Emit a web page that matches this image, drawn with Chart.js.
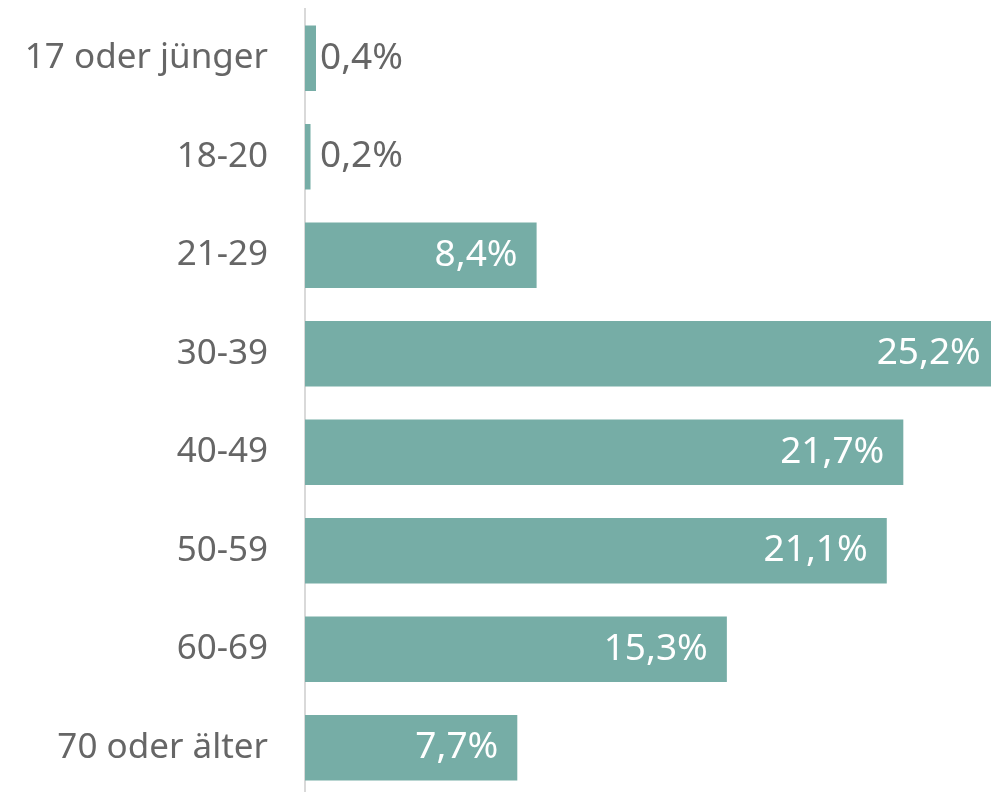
<!DOCTYPE html>
<html>
<head>
<meta charset="utf-8">
<script src="https://cdn.jsdelivr.net/npm/chart.js@4.4.1/dist/chart.umd.min.js"></script>
<style>
html,body{margin:0;padding:0;background:#fff;overflow:hidden;}
canvas{display:block;}
</style>
</head>
<body>
<canvas id="c" width="991" height="797"></canvas>
<script>
const categories = ["17 oder jünger","18-20","21-29","30-39","40-49","50-59","60-69","70 oder älter"];
const values = [0.4, 0.2, 8.4, 25.2, 21.7, 21.1, 15.3, 7.7];
const valueLabels = ["0,4%","0,2%","8,4%","25,2%","21,7%","21,1%","15,3%","7,7%"];

const FONT = "'Noto Sans', sans-serif";
const barColor = "#76ADA6";
const textGray = "#666666";

const labelPlugin = {
  id: 'valueLabels',
  afterDatasetsDraw(chart) {
    const ctx = chart.ctx;
    const meta = chart.getDatasetMeta(0);
    ctx.save();
    ctx.font = "37px " + FONT;
    ctx.textBaseline = 'middle';
    meta.data.forEach((bar, i) => {
      const realEnd = chart.scales.x.getPixelForValue(values[i]);
      const w = ctx.measureText(valueLabels[i]).width;
      if (realEnd - bar.base > w + 30) {
        ctx.fillStyle = '#ffffff';
        ctx.textAlign = 'right';
        ctx.fillText(valueLabels[i], realEnd - 19, bar.y);
      } else {
        ctx.fillStyle = textGray;
        ctx.textAlign = 'left';
        ctx.fillText(valueLabels[i], bar.base + 15, bar.y);
      }
    });
    ctx.restore();
  }
};

new Chart(document.getElementById('c'), {
  type: 'bar',
  data: {
    labels: categories,
    datasets: [{
      data: values,
      backgroundColor: barColor,
      borderWidth: 0,
      barPercentage: 0.665,
      categoryPercentage: 1.0
    }]
  },
  options: {
    indexAxis: 'y',
    responsive: false,
    maintainAspectRatio: false,
    animation: false,
    layout: { padding: { top: 9, right: 0, bottom: 0, left: 0 } },
    plugins: { legend: { display: false }, tooltip: { enabled: false } },
    scales: {
      x: {
        min: 0,
        max: 24.88,
        display: false,
        grid: { display: false }
      },
      y: {
        afterFit(scale) {
          scale.width = 305;
          scale.paddingTop = 0;
          scale.paddingBottom = 0;
        },
        grid: { display: false, drawTicks: false },
        border: { display: true, color: '#d9d9d9', width: 2 },
        ticks: {
          padding: 37,
          color: textGray,
          font: { family: FONT, size: 35 }
        }
      }
    }
  },
  plugins: [labelPlugin]
});
</script>
</body>
</html>
